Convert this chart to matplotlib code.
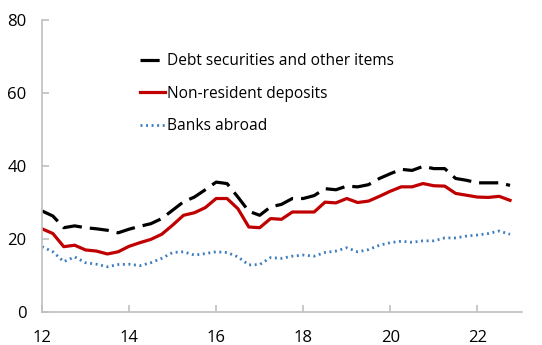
import matplotlib.pyplot as plt
import numpy as np

plt.rcParams['font.family'] = ['Open Sans', 'DejaVu Sans']

# quarterly, 2012Q1 .. 2022Q4
years = 12 + np.arange(44) * 0.25

debt = [27.7, 26.3, 23.1, 23.6, 23.1, 22.8, 22.4, 21.7, 22.7, 23.5, 24.2, 25.6,
        27.9, 30.2, 31.5, 33.5, 35.6, 35.2, 31.5, 27.6, 26.5, 28.8, 29.5, 31.1,
        31.1, 31.9, 33.8, 33.5, 34.5, 34.3, 34.9, 36.6, 37.9, 39.1, 38.8, 39.9,
        39.3, 39.3, 36.6, 36.1, 35.4, 35.4, 35.4, 34.7]
deposits = [22.8, 21.5, 17.9, 18.3, 17.0, 16.7, 15.9, 16.5, 18.0, 19.0, 19.9, 21.3,
            23.8, 26.5, 27.2, 28.6, 31.1, 31.1, 28.3, 23.3, 23.1, 25.6, 25.4, 27.4,
            27.4, 27.4, 30.1, 29.9, 31.1, 30.0, 30.4, 31.7, 33.1, 34.3, 34.3, 35.2,
            34.6, 34.5, 32.5, 32.0, 31.5, 31.4, 31.7, 30.6]
banks = [17.9, 16.5, 13.8, 15.1, 13.5, 13.1, 12.4, 13.0, 13.1, 12.7, 13.5, 14.7,
         16.3, 16.5, 15.6, 16.0, 16.5, 16.3, 15.1, 12.9, 13.0, 14.9, 14.7, 15.3,
         15.6, 15.3, 16.3, 16.7, 17.6, 16.5, 17.1, 18.3, 19.0, 19.4, 19.1, 19.5,
         19.5, 20.3, 20.3, 20.8, 21.1, 21.5, 22.2, 21.3]

fig = plt.figure(figsize=(5.42, 3.45), dpi=100)
ax = fig.add_axes([0.0775, 0.0957, 0.886, 0.846])

ax.plot(years, debt, color='black', lw=2.3, dashes=(6, 2.5),
        label='Debt securities and other items')
ax.plot(years, deposits, color='#C00000', lw=2.3, label='Non-resident deposits')
ax.plot(years, banks, color='#3D7DBF', lw=2.0, dashes=(0.7, 1.3),
        label='Banks abroad')

ax.set_xlim(12, 23.03)
ax.set_ylim(0, 80)
ax.set_xticks([12, 14, 16, 18, 20, 22])
ax.set_xticklabels(['12', '14', '16', '18', '20', '22'])
ax.set_yticks([0, 20, 40, 60, 80])

for s in ['top', 'right']:
    ax.spines[s].set_visible(False)
for s in ['left', 'bottom']:
    ax.spines[s].set_color('#C0C0C0')
    ax.spines[s].set_linewidth(1.2)
ax.tick_params(direction='in', length=5, color='#C0C0C0', width=1.2,
               labelsize=12)
ax.tick_params(axis='x', pad=13)
ax.tick_params(axis='y', pad=11)

ax.legend(loc='upper left', bbox_to_anchor=(0.192, 0.907), frameon=False,
          fontsize=11.2, handlelength=1.6, handletextpad=0.1,
          labelspacing=1.05, borderaxespad=0)

fig.savefig('out.png', dpi=100)
